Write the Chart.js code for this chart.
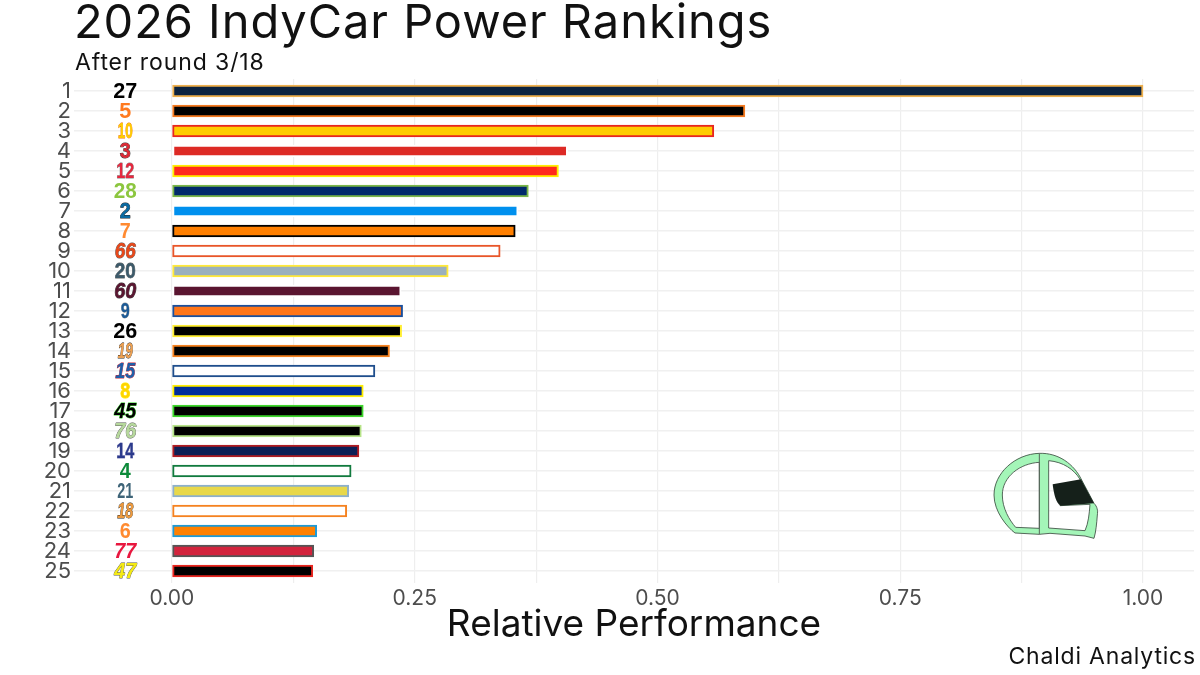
<!DOCTYPE html>
<html>
<head>
<meta charset="utf-8">
<title>2026 IndyCar Power Rankings</title>
<script src="https://cdn.jsdelivr.net/npm/chart.js@4"></script>
<style>
  html, body { margin: 0; padding: 0; background: #fff; }
  body { width: 1200px; height: 675px; position: relative; overflow: hidden; font-family: Inter, "Open Sans", sans-serif; color: #111; }
  canvas { position: absolute; left: 0; top: 0; }
  .title { position: absolute; left: 74px; top: -7px; font-size: 47px; line-height: 56px; white-space: nowrap; letter-spacing: 0.95px; }
  .subtitle { position: absolute; left: 75px; top: 49px; font-size: 23px; line-height: 26px; white-space: nowrap; letter-spacing: 0.9px; }
  .caption { position: absolute; right: 4px; top: 643px; font-size: 23px; line-height: 26px; white-space: nowrap; letter-spacing: 0.8px; }
  .helmet { position: absolute; left: 970px; top: 440px; }
</style>
</head>
<body>
<canvas id="rankChart" width="1200" height="675"></canvas>
<div class="title">2026 IndyCar Power Rankings</div>
<div class="subtitle">After round 3/18</div>
<div class="caption">Chaldi Analytics</div>
<svg class="helmet" width="150" height="110" viewBox="0 0 450 330">
  <path fill="#a4f5b8" fill-rule="evenodd" stroke="#3a4a3e" stroke-width="2.5"
    d="M208 40 C265 38 312 72 335 120 L372 190 C382 200 384 212 382 225 C380 250 378 275 372 295 L345 288 L240 280 L208 283 L135 279 C112 262 72 215 72 165 C72 100 135 42 208 40 Z
       M208 67 C150 70 97 110 97 165 C97 205 118 240 137 262 L208 265 Z
       M236 62 L236 264 L345 272 C355 250 358 220 360 193 L270 197 L330 118 C312 88 280 66 236 62 Z"/>
  <path fill="#15201a" d="M248 133 L333 118 L372 190 L272 197 C258 190 252 165 248 133 Z"/>
  <path fill="none" stroke="#55655a" stroke-width="3" d="M208 40 L208 283"/>
</svg>
<script>
const ranks = [1, 2, 3, 4, 5, 6, 7, 8, 9, 10, 11, 12, 13, 14, 15, 16, 17, 18, 19, 20, 21, 22, 23, 24, 25];
const carNumbers = ["27", "5", "10", "3", "12", "28", "2", "7", "66", "20", "60", "9", "26", "19", "15", "8", "45", "76", "14", "4", "21", "18", "6", "77", "47"];
const performance = [1.0, 0.59, 0.558, 0.4075, 0.398, 0.367, 0.3565, 0.3535, 0.338, 0.2845, 0.236, 0.2375, 0.2365, 0.224, 0.209, 0.197, 0.197, 0.195, 0.1925, 0.1845, 0.182, 0.18, 0.149, 0.146, 0.145];
const xTickValues = [0, 0.125, 0.25, 0.375, 0.5, 0.625, 0.75, 0.875, 1];
const xTickLabels = ["0.00", "", "0.25", "", "0.50", "", "0.75", "", "1.00"];

const barFill = ["#0c2340", "#000000", "#ffcc00", "#dd2a25", "#ff2a1d", "#00296b", "#0090ee", "#ff7f00", "#ffffff", "#9ab0bd", "#5a1530", "#ff7518", "#000000", "#000000", "#ffffff", "#002d9c", "#000000", "#000000", "#0c1f55", "#ffffff", "#e8d84a", "#ffffff", "#ff8000", "#d2233c", "#000000"];
const barEdge = ["#eeb04e", "#f47a20", "#e8261f", "#ffffff", "#ffee00", "#7ab648", "#ffffff", "#000000", "#e8562a", "#ffe93a", "#ffffff", "#1a4f9c", "#ffee33", "#f58220", "#1f4e8c", "#ffee00", "#3dd62c", "#b6e388", "#b01c22", "#117a3e", "#8db0cc", "#f58220", "#1e9ad6", "#555555", "#e8261f"];
const numberFill = ["#000000", "#ff7a1f", "#ffcc00", "#dd2a35", "#e5283f", "#8cc63f", "#0a6aa1", "#ff8a30", "#e8481a", "#3c5a6a", "#5a1530", "#1c5a96", "#000000", "#eea050", "#1e5fa8", "#ffd400", "#000000", "#b6d89c", "#2b3a8c", "#0d8a3a", "#3e6478", "#ef9a3d", "#ff8a30", "#e8173f", "#f5ea14"];
const numberEdge = [null, null, "#f0701a", "#333333", "#888888", null, "#222222", null, "#555555", "#666666", "#333333", "#999999", null, "#222222", "#cc2a3a", "#ffee00", "#3dd62c", "#555555", "#8888bb", null, null, "#222222", null, null, "#555555"];
const numberItalic = ["66", "60", "19", "15", "45", "76", "18", "77", "47"];
const numberWidth = [24, 12, 15, 11, 18, 23, 11, 11, 21, 21, 22, 9, 24, 15, 20, 10, 22, 22, 18, 11, 16, 16, 11, 22, 22];
const numberAxisPos = -0.048;

const carNumberPlugin = {
  id: "carNumbers",
  afterDraw(chart) {
    const { ctx, scales } = chart;
    const x = scales.x.getPixelForValue(numberAxisPos);
    ctx.save();
    ctx.textAlign = "center";
    ctx.textBaseline = "middle";
    ctx.lineJoin = "round";
    carNumbers.forEach((num, i) => {
      const y = scales.y.getPixelForValue(ranks[i]) + 1;
      ctx.font = `${numberItalic.includes(num) ? "italic " : ""}bold 22px "Liberation Sans", Arial, sans-serif`;
      if (numberEdge[i]) {
        ctx.strokeStyle = numberEdge[i];
        ctx.lineWidth = 0.8;
        ctx.strokeText(num, x, y, numberWidth[i]);
      }
      ctx.fillStyle = numberFill[i];
      ctx.fillText(num, x, y, numberWidth[i]);
    });
    ctx.restore();
  },
};

new Chart(document.getElementById("rankChart"), {
  type: "bar",
  data: {
    datasets: [{
      data: ranks.map((r, i) => ({ x: performance[i], y: r })),
      backgroundColor: barFill,
      borderColor: barEdge,
      borderWidth: 2,
      borderSkipped: false,
      barThickness: 12,
    }],
  },
  options: {
    indexAxis: "y",
    responsive: false,
    animation: false,
    layout: { padding: { top: 79, right: 6, left: 0, bottom: 0 } },
    plugins: { legend: { display: false }, tooltip: { enabled: false } },
    scales: {
      x: {
        type: "linear",
        min: -0.1009,
        max: 1.0525,
        afterBuildTicks: (axis) => { axis.ticks = xTickValues.map((value) => ({ value })); },
        afterFit: (axis) => { axis.height = 92; axis.paddingLeft = 0; axis.paddingRight = 0; },
        grid: { color: "#eeeeee", lineWidth: 1.2, drawTicks: false },
        border: { display: false },
        ticks: {
          autoSkip: false,
          maxRotation: 0,
          padding: 3,
          color: "#4d4d4d",
          font: { family: "Inter", size: 21 },
          callback: (value) => xTickLabels[xTickValues.indexOf(value)],
        },
        title: {
          display: true,
          text: "Relative Performance",
          color: "#111111",
          font: { family: "Inter", size: 37, weight: "normal" },
          padding: { top: 0, bottom: 28 },
        },
      },
      y: {
        type: "linear",
        reverse: true,
        offset: false,
        min: 0.4,
        max: 25.6,
        afterBuildTicks: (axis) => { axis.ticks = ranks.map((value) => ({ value })); },
        afterFit: (axis) => { axis.width = 74; axis.paddingTop = 0; axis.paddingBottom = 0; },
        grid: { offset: false, color: "#f0f0f0", lineWidth: 1.4, drawTicks: false },
        border: { display: false },
        ticks: {
          autoSkip: false,
          padding: 3,
          color: "#4d4d4d",
          font: { family: "Inter", size: 22 },
          callback: (value) => String(value),
        },
      },
    },
  },
  plugins: [carNumberPlugin],
});
</script>
</body>
</html>
